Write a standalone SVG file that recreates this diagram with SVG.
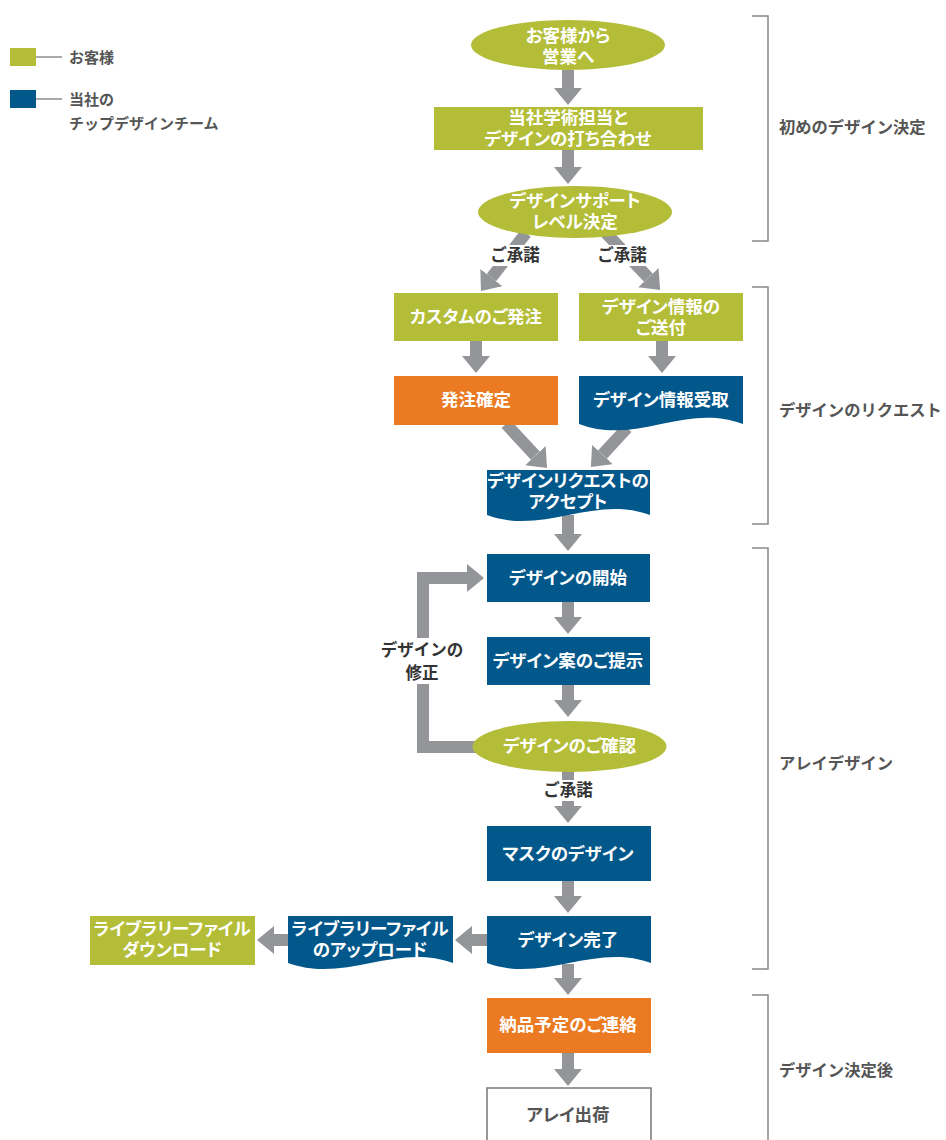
<svg xmlns="http://www.w3.org/2000/svg" width="946" height="1140" viewBox="0 0 946 1140">
<style>
text{font-family:"Liberation Sans","Noto Sans CJK JP",sans-serif;font-weight:bold;dominant-baseline:central}
.n{fill:#fff;font-size:17.5px;text-anchor:middle;font-feature-settings:"palt"}
.g{fill:#B3BD37}
.b{fill:#02578B}
.o{fill:#EB7A22}
.c{fill:none;stroke:#939598;stroke-width:12;marker-end:url(#ah)}
.lb{fill:#333;font-size:16.5px;text-anchor:middle}
.wb{fill:#fff}
.br{fill:none;stroke:#888;stroke-width:1.5}
.bt{fill:#555;font-size:16.3px}
.lg{fill:#555;font-size:15px}
.ll{stroke:#555;stroke-width:1}
</style>
<defs>
<marker id="ah" markerUnits="userSpaceOnUse" markerWidth="17" markerHeight="28" viewBox="0 0 17 28" refX="0" refY="14" orient="auto">
<path d="M0,0 L17,14 L0,28 Z" fill="#939598"/>
</marker>
</defs>
<rect width="946" height="1140" fill="#fff"/>

<g id="legend">
<rect class="g" x="10" y="48" width="26" height="18"/>
<line class="ll" x1="36" y1="57" x2="62" y2="57"/>
<text class="lg" x="69" y="57">お客様</text>
<rect class="b" x="10" y="90" width="26" height="18"/>
<line class="ll" x1="36" y1="99" x2="62" y2="99"/>
<text class="lg" x="69" y="99">当社の</text>
<text class="lg" x="69" y="123">チップデザインチーム</text>
</g>

<g id="phases">
<path class="br" d="M752,16 H768 V241 H752"/>
<text class="bt" x="779" y="127">初めのデザイン決定</text>
<path class="br" d="M752,287 H768 V524 H752"/>
<text class="bt" x="779" y="410">デザインのリクエスト</text>
<path class="br" d="M752,548 H768 V969 H752"/>
<text class="bt" x="779" y="763">アレイデザイン</text>
<path class="br" d="M752,995 H768 V1140"/>
<text class="bt" x="779" y="1070">デザイン決定後</text>
</g>

<g id="connectors">
<line class="c" x1="568" y1="70" x2="568" y2="88"/>
<line class="c" x1="568" y1="150" x2="568" y2="167"/>
<line class="c" x1="526" y1="233" x2="491.4" y2="277.6"/>
<line class="c" x1="605" y1="232" x2="648.4" y2="277.6"/>
<line class="c" x1="476" y1="341" x2="476" y2="356"/>
<line class="c" x1="662" y1="341" x2="662" y2="356"/>
<line class="c" x1="506" y1="424" x2="535.4" y2="455.6"/>
<line class="c" x1="627" y1="428" x2="602.4" y2="454.6"/>
<line class="c" x1="568" y1="515" x2="568" y2="534"/>
<line class="c" x1="568" y1="602" x2="568" y2="617"/>
<line class="c" x1="568" y1="685" x2="568" y2="700"/>
<line class="c" x1="568" y1="770" x2="568" y2="806"/>
<line class="c" x1="568" y1="881" x2="568" y2="896"/>
<line class="c" x1="568" y1="964" x2="568" y2="978"/>
<line class="c" x1="568" y1="1053" x2="568" y2="1069"/>
<line class="c" x1="487" y1="940" x2="472" y2="940"/>
<line class="c" x1="288" y1="940" x2="274" y2="940"/>
<polyline class="c" points="480,747 423,747 423,578 467,578"/>
<rect class="wb" x="486" y="245" width="58" height="21"/>
<text class="lb" x="515" y="255">ご承諾</text>
<rect class="wb" x="593" y="245" width="58" height="21"/>
<text class="lb" x="622" y="255">ご承諾</text>
<rect class="wb" x="539" y="780" width="58" height="21"/>
<text class="lb" x="568" y="790">ご承諾</text>
<rect class="wb" x="377" y="638" width="90" height="46"/>
<text class="lb" x="422" y="650">デザインの</text>
<text class="lb" x="422" y="673">修正</text>
</g>

<g id="n1"><ellipse class="g" cx="568" cy="45" rx="97" ry="25"/>
<text class="n" x="568" y="36">お客様から</text><text class="n" x="568" y="57">営業へ</text></g>

<g id="n2"><rect class="g" x="434" y="107" width="269" height="43"/>
<text class="n" x="568" y="118">当社学術担当と</text><text class="n" x="568" y="139">デザインの打ち合わせ</text></g>

<g id="n3"><ellipse class="g" cx="575" cy="212" rx="97" ry="26"/>
<text class="n" x="575" y="201">デザインサポート</text><text class="n" x="575" y="222">レベル決定</text></g>

<g id="n4"><rect class="g" x="394" y="293" width="164" height="48"/>
<text class="n" x="476" y="317">カスタムのご発注</text></g>

<g id="n5"><rect class="g" x="579" y="293" width="164" height="48"/>
<text class="n" x="661" y="307">デザイン情報の</text><text class="n" x="661" y="328">ご送付</text></g>

<g id="n6"><rect class="o" x="394" y="376" width="164" height="49"/>
<text class="n" x="476" y="400">発注確定</text></g>

<g id="n7"><path class="b" d="M579,376 H743 V424 C685.6,402 636.4,446 579,424 Z"/>
<text class="n" x="661" y="400">デザイン情報受取</text></g>

<g id="n8"><path class="b" d="M487,470 H650 V515 C593,494 544,536 487,515 Z"/>
<text class="n" x="568" y="481">デザインリクエストの</text><text class="n" x="568" y="502">アクセプト</text></g>

<g id="n9"><rect class="b" x="487" y="554" width="163" height="48"/>
<text class="n" x="568" y="578">デザインの開始</text></g>

<g id="n10"><rect class="b" x="487" y="637" width="163" height="48"/>
<text class="n" x="568" y="661">デザイン案のご提示</text></g>

<g id="n11"><ellipse class="g" cx="569.5" cy="746.5" rx="97" ry="25.5"/>
<text class="n" x="569.5" y="746">デザインのご確認</text></g>

<g id="n12"><rect class="b" x="487" y="826" width="164" height="55"/>
<text class="n" x="568" y="854">マスクのデザイン</text></g>

<g id="n13"><path class="b" d="M487,916 H651 V963 C594,942 544,984 487,963 Z"/>
<text class="n" x="568" y="940">デザイン完了</text></g>

<g id="n14"><path class="b" d="M288,916 H453 V963 C395,942 346,984 288,963 Z"/>
<text class="n" x="370" y="929">ライブラリーファイル</text><text class="n" x="370" y="950">のアップロード</text></g>

<g id="n15"><rect class="g" x="90" y="916" width="165" height="49"/>
<text class="n" x="172" y="929">ライブラリーファイル</text><text class="n" x="172" y="950">ダウンロード</text></g>

<g id="n16"><rect class="o" x="487" y="998" width="164" height="55"/>
<text class="n" x="568" y="1025">納品予定のご連絡</text></g>

<g id="n17"><rect x="487" y="1088" width="164" height="60" fill="#fff" stroke="#777" stroke-width="1.5"/>
<text class="n" x="568" y="1115" style="fill:#555">アレイ出荷</text></g>
</svg>
